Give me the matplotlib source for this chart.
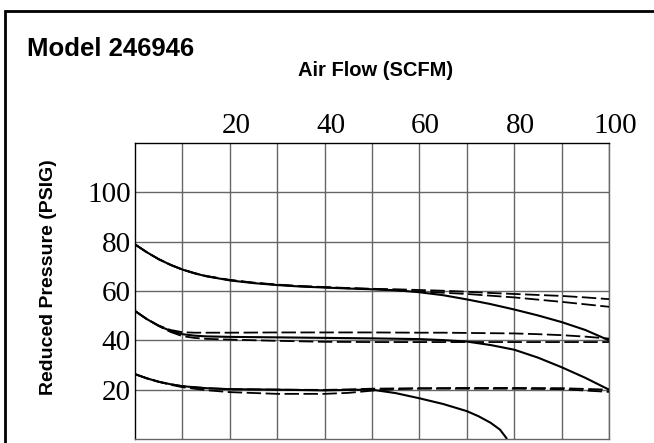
import matplotlib
matplotlib.use('Agg')
import matplotlib.pyplot as plt
import matplotlib.transforms as mtransforms
from matplotlib.patches import Rectangle

# Air flow (SCFM) sample points and reduced pressure (PSIG)
x_top = [0, 2.5, 5, 7.5, 10, 12.5, 15, 20, 25, 30, 35, 40, 45, 50, 55, 60, 65, 70, 75, 80, 85, 90, 95, 100]
top_solid = [78.9, 75.7, 72.9, 70.6, 68.7, 67.2, 66.0, 64.3, 63.2, 62.4, 61.8, 61.4, 61.0, 60.7,
             60.3, 59.5, 58.3, 56.6, 54.7, 52.5, 50.1, 47.4, 44.2, 40.0]
top_dash_a = [78.9, 75.7, 72.9, 70.6, 68.7, 67.3, 66.1, 64.5, 63.4, 62.6, 62.0, 61.6, 61.2, 60.9,
              60.7, 60.4, 60.1, 59.7, 59.2, 58.8, 58.4, 58.0, 57.4, 56.7]
top_dash_b = [78.9, 75.7, 72.9, 70.6, 68.7, 67.2, 66.0, 64.4, 63.3, 62.5, 61.9, 61.5, 61.1, 60.8,
              60.3, 59.8, 59.3, 58.8, 58.1, 57.4, 56.5, 55.6, 54.6, 53.6]

x_mid = [0, 2.5, 5, 7.5, 10, 12.5, 15, 20, 30, 40, 50, 60, 65, 70, 75, 80, 85, 90, 95, 100]
mid_solid = [51.9, 48.6, 45.9, 43.8, 42.5, 41.9, 41.6, 41.4, 41.2, 41.0, 40.8, 40.5, 40.1, 39.5,
             38.1, 36.2, 33.0, 29.1, 24.8, 20.0]
mid_dash_a = [51.9, 48.6, 46.0, 44.2, 43.3, 43.1, 43.1, 43.1, 43.2, 43.2, 43.2, 43.1, 43.1, 43.0,
              42.9, 42.8, 42.5, 42.1, 41.5, 40.7]
mid_dash_b = [51.9, 48.6, 45.8, 43.4, 41.7, 41.0, 40.6, 40.3, 39.8, 39.4, 39.3, 39.3, 39.3, 39.3,
              39.3, 39.3, 39.3, 39.3, 39.3, 39.3]

x_low = [0, 2.5, 5, 7.5, 10, 15, 20, 30, 40, 45, 50, 55, 60, 65, 70, 72.5, 75, 77, 78.5]
low_solid = [26.3, 24.6, 23.2, 22.2, 21.4, 20.6, 20.2, 20.0, 19.7, 19.9, 20.0, 18.6, 16.5, 14.2,
             11.3, 9.2, 6.6, 3.8, 0.0]
x_low_dash = [0, 2.5, 5, 7.5, 10, 15, 20, 30, 40, 45, 50, 55, 60, 70, 80, 90, 100]
low_dash_a = [26.3, 24.6, 23.2, 22.2, 21.4, 20.6, 20.2, 20.0, 19.9, 20.1, 20.4, 20.5, 20.6, 20.7,
              20.7, 20.6, 20.0]
low_dash_b = [26.3, 24.6, 23.2, 22.0, 21.0, 19.8, 19.0, 18.3, 18.3, 18.7, 19.6, 20.2, 20.4, 20.4,
              20.4, 20.2, 19.1]

x_labels = [20, 40, 60, 80, 100]
x_minor = [10, 30, 50, 70, 90]
y_labels = [20, 40, 60, 80, 100]

W, H = 654, 443
fig = plt.figure(figsize=(W / 100, H / 100), dpi=100)
ax = fig.add_axes([135 / W, 4 / H, 474 / W, 296 / H])

# Thick outer frame of the datasheet panel
fig.add_artist(Rectangle((5 / W, -0.1), 1.2, 1 - 11 / H + 0.1, transform=fig.transFigure,
                         fill=False, ec='black', lw=2.0, clip_on=False))

dash = (0, (8, 2.5))
for xs, ys in [(x_top, top_dash_a), (x_top, top_dash_b), (x_mid, mid_dash_a),
               (x_mid, mid_dash_b), (x_low_dash, low_dash_a), (x_low_dash, low_dash_b)]:
    ax.plot(xs, ys, color='black', lw=1.3, linestyle=dash, zorder=3)
for xs, ys in [(x_top, top_solid), (x_mid, mid_solid), (x_low, low_solid)]:
    ax.plot(xs, ys, color='black', lw=1.5, solid_capstyle='butt', solid_joinstyle='round', zorder=4)

ax.set_xlim(0, 100)
ax.set_ylim(0, 120)
ax.set_xticks(x_labels)
ax.set_xticks(x_minor, minor=True)
ax.set_yticks(y_labels)
ax.xaxis.tick_top()
ax.tick_params(which='both', length=0)
ax.tick_params(axis='x', pad=3)
ax.tick_params(axis='y', pad=3)
serif = {'family': 'Liberation Serif', 'size': 21}
ax.set_xticklabels([str(v) for v in x_labels], fontdict=serif)
ax.set_yticklabels([str(v) for v in y_labels], fontdict=serif)
shift = mtransforms.ScaledTranslation(6 / 100, 0, fig.dpi_scale_trans)
for lab in ax.get_xticklabels():
    lab.set_transform(lab.get_transform() + shift)

ax.grid(which='both', color='#666666', lw=1.0)
ax.set_axisbelow(True)
for side in ['top', 'left']:
    ax.spines[side].set_color('black')
for side in ['bottom', 'right']:
    ax.spines[side].set_color('#666666')
for sp in ax.spines.values():
    sp.set_linewidth(1.0)

sans = 'Liberation Sans'
fig.text(27 / W, 1 - 56 / H, 'Model 246946', family=sans, weight='bold', size=18.5,
         ha='left', va='baseline')
fig.text(376 / W, 1 - 76 / H, 'Air Flow (SCFM)', family=sans, weight='bold', size=14.5,
         ha='center', va='baseline')
fig.text(48.5 / W, 1 - 277 / H, 'Reduced Pressure (PSIG)', family=sans, weight='bold', size=14,
         ha='center', va='center', rotation=90)

fig.savefig('out.png', dpi=100)
